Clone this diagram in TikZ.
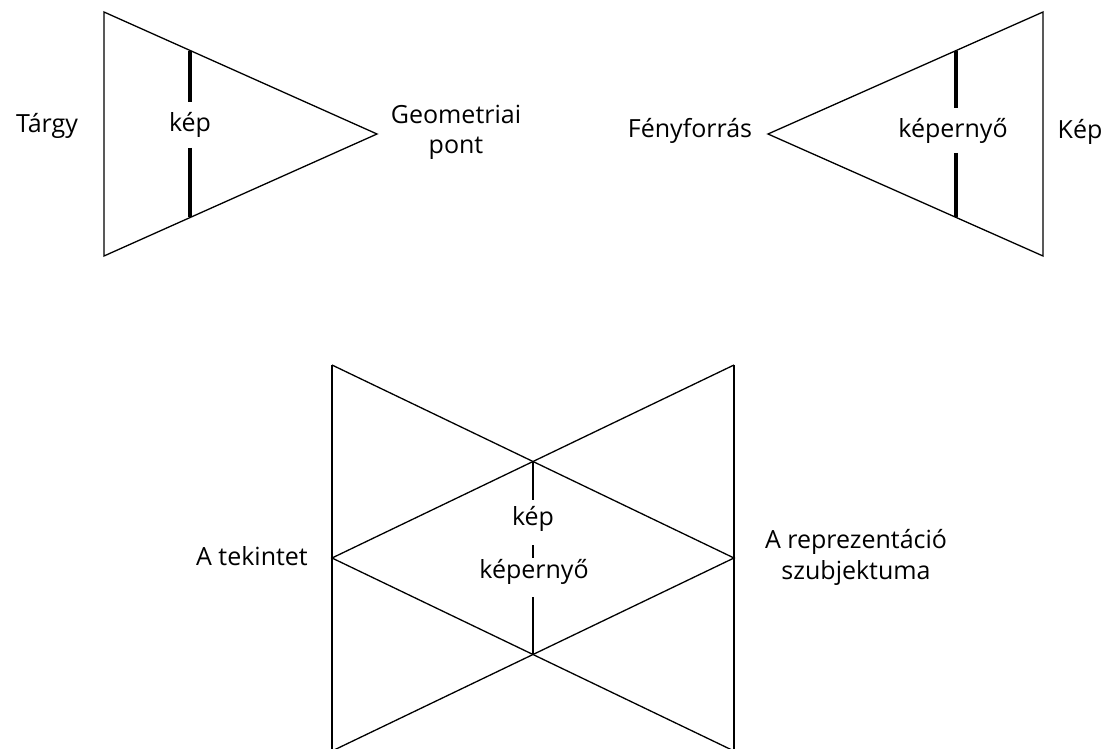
\documentclass[tikz,border=0pt]{standalone}
\usepackage{fontspec}
\setmainfont{Open Sans}
\begin{document}
\begin{tikzpicture}[x=1pt,y=-1pt,
  edge/.style={line width=1.3pt, line join=miter},
  thickbar/.style={line width=4.5pt},
  thinbar/.style={line width=1.3pt},
  lbl/.style={font=\fontsize{25}{31}\selectfont, inner sep=0pt, align=center}]
\useasboundingbox (0,0) rectangle (1109,749);
\clip (0,0) rectangle (1109,749);
% ---------- top left triangle ----------
\coordinate (tl1) at (104,12);
\coordinate (tl2) at (104,256);
\coordinate (tl3) at (377,134);
\draw[edge] (tl1) -- (tl3) -- (tl2) -- cycle;
\coordinate (tlbT) at (190,50.6);
\coordinate (tlbB) at (190,217.4);
\node[lbl, anchor=base] (kep1) at (190,132) {kép};
\coordinate (tlb1) at (190,102);
\coordinate (tlb2) at (190,148);
\draw[thickbar] (tlbT) -- (tlb1);
\draw[thickbar] (tlb2) -- (tlbB);
\node[lbl, anchor=base] (targy) at (47,133) {Tárgy};
\node[lbl, anchor=base] (geom) at (456,154) {Geometriai\\pont};
% ---------- top right triangle ----------
\coordinate (tr1) at (1043,12);
\coordinate (tr2) at (1043,256);
\coordinate (tr3) at (768,134);
\draw[edge] (tr1) -- (tr3) -- (tr2) -- cycle;
\coordinate (trbT) at (956,50.6);
\coordinate (trbB) at (956,217.4);
\coordinate (trb1) at (956,108);
\coordinate (trb2) at (956,153);
\draw[thickbar] (trbT) -- (trb1);
\draw[thickbar] (trb2) -- (trbB);
\node[lbl, anchor=base] (kepernyo1) at (953,138) {képernyő};
\node[lbl, anchor=base] (feny) at (690,138) {Fényforrás};
\node[lbl, anchor=base] (Kep) at (1080,139) {Kép};
% ---------- bottom figure ----------
\coordinate (bTL) at (332,365);
\coordinate (bTR) at (734,365);
\coordinate (bML) at (332,558);
\coordinate (bMR) at (734,558);
\coordinate (bBL) at (332,751);
\coordinate (bBR) at (734,751);
\coordinate (cU) at (533,461.5);
\coordinate (cD) at (533,654.5);
\draw[edge] (bTL) -- (bBL);
\draw[edge] (bTR) -- (bBR);
\draw[edge] (bTL) -- (bMR) -- (bBL);
\draw[edge] (bTR) -- (bML) -- (bBR);
\coordinate (v1) at (533,500);
\coordinate (v2) at (533,545);
\coordinate (v3) at (533,558);
\coordinate (v4) at (533,597);
\draw[thinbar] (cU) -- (v1);
\draw[thinbar] (v2) -- (v3);
\draw[thinbar] (v4) -- (cD);
\node[lbl, anchor=base] (kep2) at (533,525) {kép};
\node[lbl, anchor=base] (kepernyo2) at (534,578) {képernyő};
\node[lbl, anchor=base] (tekintet) at (252,565) {A tekintet};
\node[lbl, anchor=base] (repr) at (856,579) {A reprezentáció\\szubjektuma};
\end{tikzpicture}
\end{document}
